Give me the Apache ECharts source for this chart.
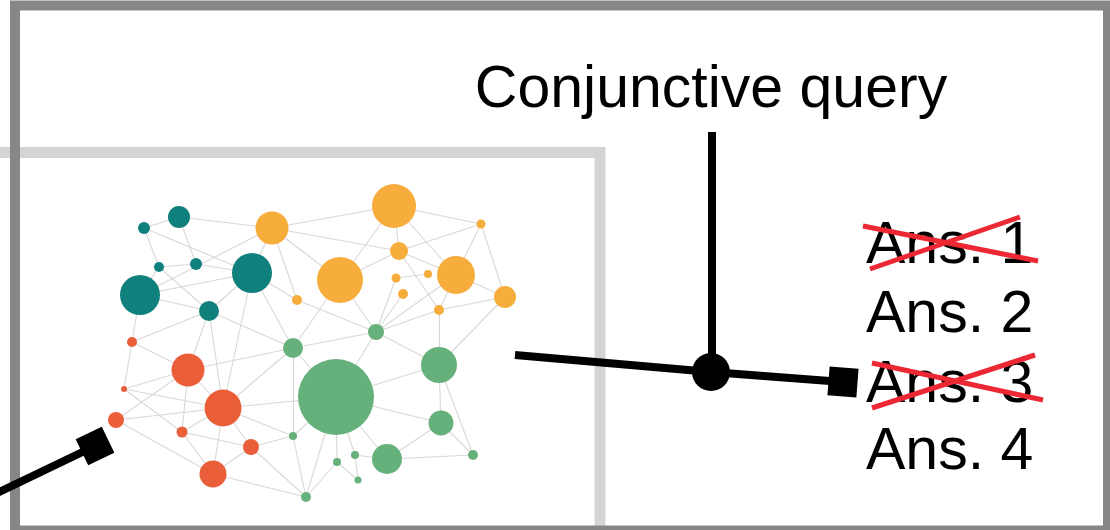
<!DOCTYPE html>
<html>
<head>
<meta charset="utf-8">
<script src="https://cdn.jsdelivr.net/npm/echarts@6/dist/echarts.min.js"></script>
<style>html,body{margin:0;padding:0;background:#fff}#c{width:1110px;height:530px}</style>
</head>
<body>
<div id="c"></div>
<script>
// ---- data ----
const groupColors = ['#10807d', '#f6ad3c', '#ea5f3a', '#66b07b'];
const nodeX = [144,179,159,196,252,140,209, 272,394,481,399,340,396,428,403,456,297,505,439, 132,188,124,223,116,182,251,213, 293,376,439,336,441,293,355,337,387,473,358,306];
const nodeY = [228,217,267,264,273,295,311, 228,206,224,251,280,278,274,294,275,300,297,310, 342,370,389,408,420,432,447,474, 348,332,365,397,423,436,455,462,459,455,480,497];
const nodeR = [6,11,5,6,20,20,10, 16.5,22,4.5,9,23,4.5,4,5,19,5,11,5, 5,16.5,3,18.5,8,5.5,8,13.5, 10,8,18,38,12.5,4,4,4,15,5,3.5,5];
const nodeGroup = [0,0,0,0,0,0,0, 1,1,1,1,1,1,1,1,1,1,1,1, 2,2,2,2,2,2,2,2, 3,3,3,3,3,3,3,3,3,3,3,3];
const edges = [
 [0,1],[1,7],[0,4],[0,2],[1,3],[2,3],[2,5],[3,4],[7,5],[5,4],[2,6],[5,6],[4,6],[4,7],[7,16],[7,11],[7,8],[7,10],[4,16],[4,27],[4,22],[5,19],[6,19],[6,20],[6,22],[6,27],[16,28],[11,27],
 [8,9],[8,10],[8,11],[8,15],[9,10],[9,15],[9,17],[10,11],[10,18],[10,15],[12,13],[12,28],[14,28],[15,28],[15,17],[15,18],[18,17],[11,28],[27,28],[18,29],[17,29],[18,28],
 [19,20],[19,21],[20,27],[20,21],[20,23],[20,24],[20,22],[21,22],[21,24],[23,22],[23,26],[22,30],[22,27],[22,24],[22,25],[22,26],[22,32],[24,25],[24,26],[25,26],[25,32],[25,38],[26,38],[27,32],[32,38],[32,30],[38,30],[38,34],[27,30],
 [28,29],[28,30],[29,30],[29,31],[29,36],[30,31],[31,35],[31,36],[35,36],[30,35],[30,33],[33,35],[33,37],[34,37],[30,34]
];
const queryLabel = 'Conjunctive query';
const answers = ['Ans. 1', 'Ans. 2', 'Ans. 3', 'Ans. 4'];
const answerRejected = [true, false, true, false];

// ---- chart ----
const chart = echarts.init(document.getElementById('c'), null, {renderer: 'canvas'});
const FONT = '"Liberation Sans", Arial, sans-serif';
const FS = 59;
const ansBaselines = [267, 336, 406, 473];
const graphic = [];
// frames
graphic.push({type:'rect', z:0, shape:{x:-50, y:152.5, width:650, height:500}, style:{fill:'none', stroke:'#d4d4d4', lineWidth:11}});
graphic.push({type:'rect', z:1, shape:{x:15, y:5.5, width:1093, height:525}, style:{fill:'none', stroke:'#878787', lineWidth:10}});
// query text
graphic.push({type:'text', z:100, x:711, y:111-20, style:{text:queryLabel, font:'normal '+FS+'px '+FONT, fill:'#000', align:'center', verticalAlign:'middle'}});
// connector lines
graphic.push({type:'line', z:100, shape:{x1:712, y1:132, x2:712, y2:372}, style:{stroke:'#000', lineWidth:8}});
graphic.push({type:'polyline', z:100, shape:{points:[[515,355],[711,372],[843,382]]}, style:{stroke:'#000', lineWidth:8, fill:'none'}});
graphic.push({type:'circle', z:101, shape:{cx:711, cy:372, r:19}, style:{fill:'#000'}});
graphic.push({type:'rect', z:101, x:843, y:382, rotation:-Math.atan2(10,131), shape:{x:-14.5, y:-14.5, width:29, height:29}, style:{fill:'#000'}});
graphic.push({type:'line', z:100, shape:{x1:-5, y1:494, x2:95, y2:446}, style:{stroke:'#000', lineWidth:8}});
graphic.push({type:'rect', z:101, x:95, y:446, rotation:Math.atan2(48,100), shape:{x:-14.5, y:-14.5, width:29, height:29}, style:{fill:'#000'}});
// answers
answers.forEach((a, i) => {
  graphic.push({type:'text', z:100, x:866, y:ansBaselines[i]-20, style:{text:a, font:'normal '+FS+'px '+FONT, fill:'#000', align:'left', verticalAlign:'middle'}});
});
const crosses = {0:[[863,226,1038,261],[870,269,1020,217]], 2:[[872,363,1043,400],[872,408,1035,355]]};
answers.forEach((a, i) => {
  if (answerRejected[i]) {
    crosses[i].forEach(c => graphic.push({type:'line', z:102, shape:{x1:c[0], y1:c[1], x2:c[2], y2:c[3]}, style:{stroke:'#ec2835', lineWidth:5}}));
  }
});

chart.setOption({
  animation: false,
  backgroundColor: '#fff',
  grid: {left:0, right:0, top:0, bottom:0},
  xAxis: {type:'value', min:0, max:1110, show:false},
  yAxis: {type:'value', min:0, max:530, inverse:true, show:false},
  graphic: graphic,
  series: [{
    type: 'graph',
    coordinateSystem: 'cartesian2d',
    layout: 'none',
    z: 10,
    symbol: 'circle',
    data: nodeX.map((x, i) => ({
      name: 'n' + i,
      value: [x, nodeY[i]],
      symbolSize: nodeR[i] * 2,
      itemStyle: {color: groupColors[nodeGroup[i]]}
    })),
    links: edges.map(e => ({source: e[0], target: e[1]})),
    lineStyle: {color: '#d8d8d8', width: 1.1, opacity: 1, curveness: 0},
    label: {show: false},
    emphasis: {disabled: true}
  }]
});
</script>
</body>
</html>
